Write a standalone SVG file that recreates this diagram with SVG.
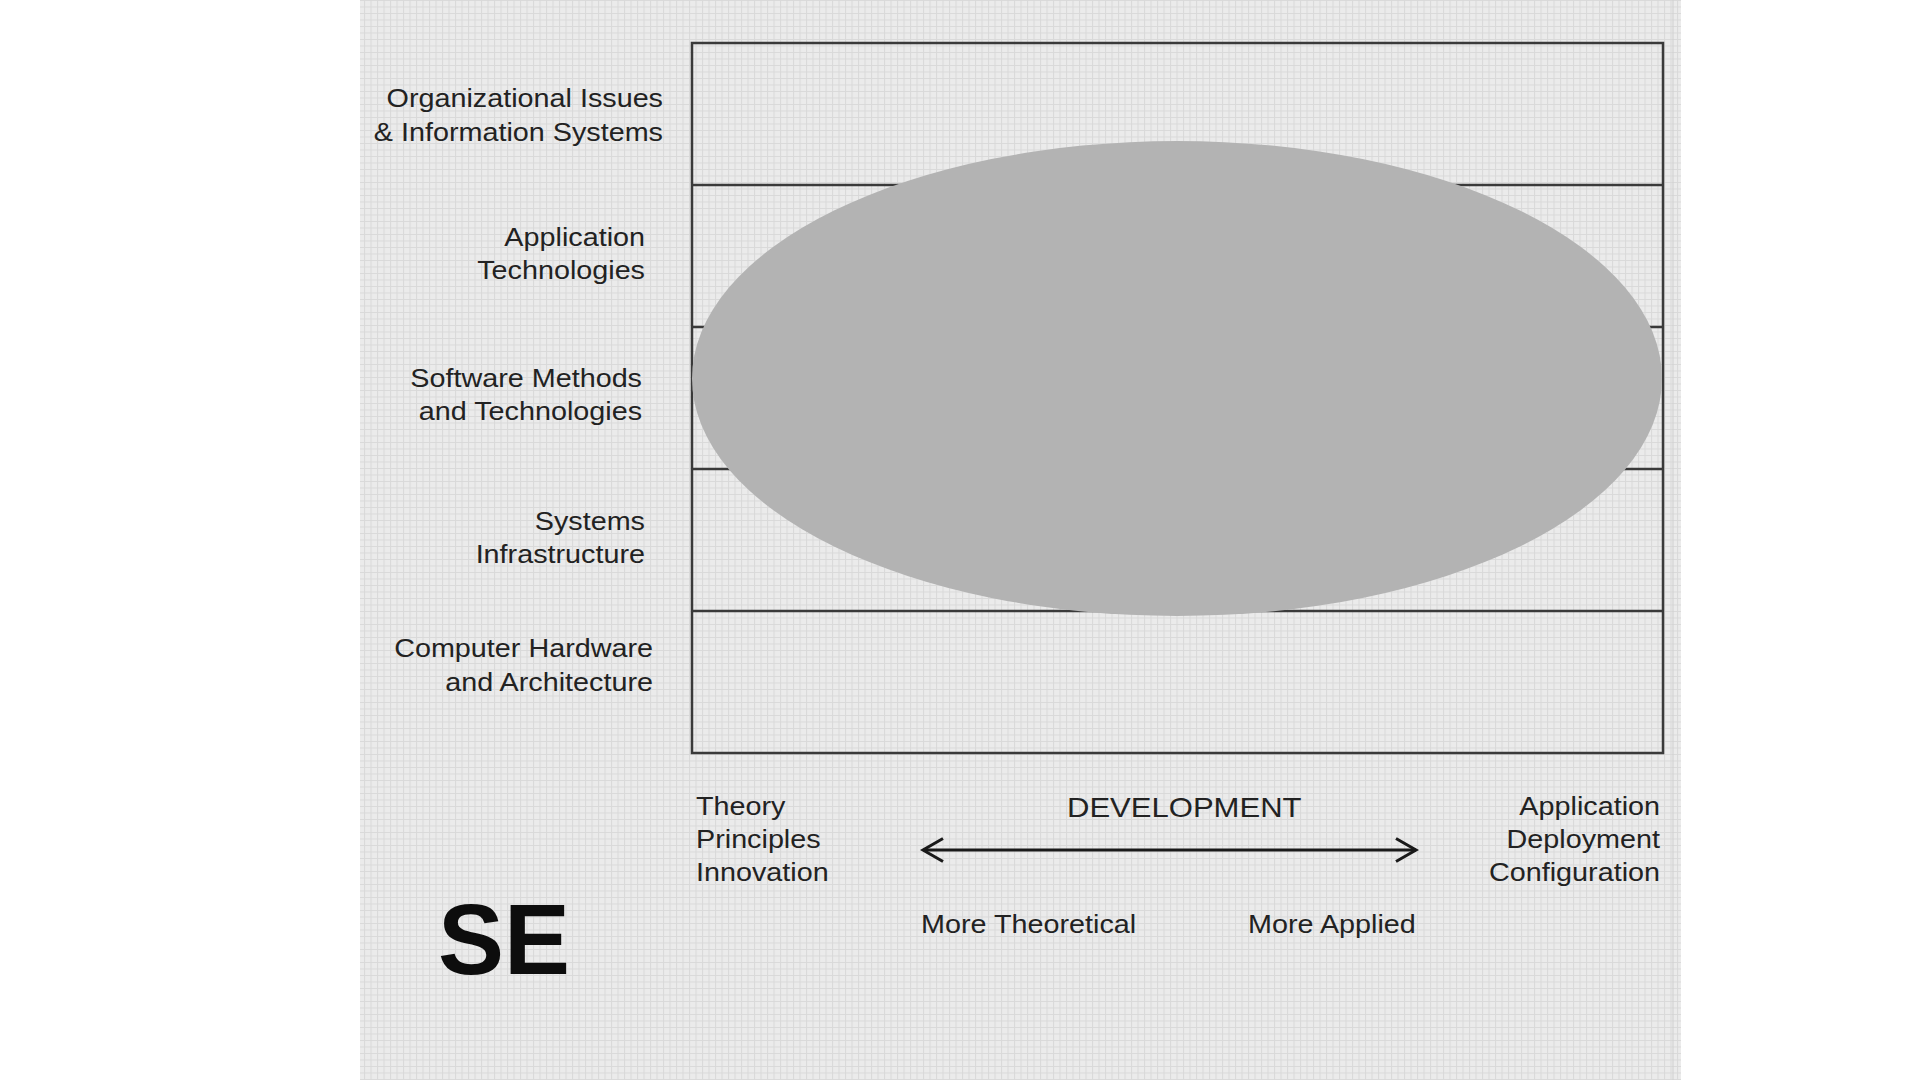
<svg xmlns="http://www.w3.org/2000/svg" width="1920" height="1080" viewBox="0 0 1920 1080">
  <defs>
    <pattern id="grid" width="6.5" height="6.5" patternUnits="userSpaceOnUse">
      <rect width="6.5" height="6.5" fill="#ebebeb"/>
      <path d="M0 0.5 H6.5 M0.5 0 V6.5" stroke="#d9d9d9" stroke-width="1" fill="none"/>
    </pattern>
    <marker id="chev" markerUnits="userSpaceOnUse" markerWidth="30" markerHeight="30" viewBox="-25 -15 30 30" refX="0" refY="0" orient="auto-start-reverse">
      <path d="M-20 -11.5 L0 0 L-20 11.5" fill="none" stroke="#1a1a1a" stroke-width="3" stroke-linejoin="miter"/>
    </marker>
    <style>
      .lbl { font-family: "Liberation Sans", Arial, sans-serif; font-size: 25px; fill: #222222; }
      .end { text-anchor: end; }
      .band { stroke: #3a3a3a; stroke-width: 2.5; fill: none; }
    </style>
  </defs>

  <rect x="0" y="0" width="1920" height="1080" fill="#ffffff"/>
  <rect id="panel" x="360" y="0" width="1321" height="1080" fill="url(#grid)"/>
  <line x1="1673" y1="0" x2="1673" y2="1080" stroke="#d0d0d0" stroke-width="1"/>

  <g id="frame">
    <rect class="band" x="692" y="43" width="971" height="710"/>
    <line class="band" x1="692" y1="185" x2="1663" y2="185"/>
    <line class="band" x1="692" y1="327" x2="1663" y2="327"/>
    <line class="band" x1="692" y1="469" x2="1663" y2="469"/>
    <line class="band" x1="692" y1="611" x2="1663" y2="611"/>
  </g>

  <g id="ellipse">
    <ellipse cx="1177" cy="378.5" rx="485" ry="237.5" fill="#b3b3b3"/>
  </g>

  <g id="label-org">
    <text class="lbl end" transform="translate(663,107) scale(1.15,1)">Organizational Issues</text>
    <text class="lbl end" transform="translate(663,141) scale(1.15,1)">&amp; Information Systems</text>
  </g>
  <g id="label-app">
    <text class="lbl end" transform="translate(645,246) scale(1.15,1)">Application</text>
    <text class="lbl end" transform="translate(645,279) scale(1.15,1)">Technologies</text>
  </g>
  <g id="label-sw">
    <text class="lbl end" transform="translate(642,387) scale(1.15,1)">Software Methods</text>
    <text class="lbl end" transform="translate(642,420) scale(1.15,1)">and Technologies</text>
  </g>
  <g id="label-sys">
    <text class="lbl end" transform="translate(645,530) scale(1.15,1)">Systems</text>
    <text class="lbl end" transform="translate(645,563) scale(1.15,1)">Infrastructure</text>
  </g>
  <g id="label-hw">
    <text class="lbl end" transform="translate(653,657) scale(1.15,1)">Computer Hardware</text>
    <text class="lbl end" transform="translate(653,691) scale(1.15,1)">and Architecture</text>
  </g>

  <g id="label-theory">
    <text class="lbl" transform="translate(696,815) scale(1.15,1)">Theory</text>
    <text class="lbl" transform="translate(696,848) scale(1.15,1)">Principles</text>
    <text class="lbl" transform="translate(696,881) scale(1.15,1)">Innovation</text>
  </g>
  <g id="label-applied">
    <text class="lbl end" transform="translate(1660,815) scale(1.15,1)">Application</text>
    <text class="lbl end" transform="translate(1660,848) scale(1.15,1)">Deployment</text>
    <text class="lbl end" transform="translate(1660,881) scale(1.15,1)">Configuration</text>
  </g>
  <g id="label-dev">
    <text class="lbl" style="font-size:27px" transform="translate(1067,817) scale(1.15,1)">DEVELOPMENT</text>
  </g>
  <g id="label-more-theoretical">
    <text class="lbl" transform="translate(921,933) scale(1.15,1)">More Theoretical</text>
  </g>
  <g id="label-more-applied">
    <text class="lbl" transform="translate(1248,933) scale(1.15,1)">More Applied</text>
  </g>
  <g id="label-se">
    <text x="438" y="974" font-family="Liberation Sans, Arial, sans-serif" font-weight="bold" font-size="100" fill="#0d0d0d" textLength="132" lengthAdjust="spacingAndGlyphs">SE</text>
  </g>

  <g id="connectors">
    <line x1="923" y1="850" x2="1416" y2="850" stroke="#1a1a1a" stroke-width="3" marker-start="url(#chev)" marker-end="url(#chev)"/>
  </g>
</svg>
